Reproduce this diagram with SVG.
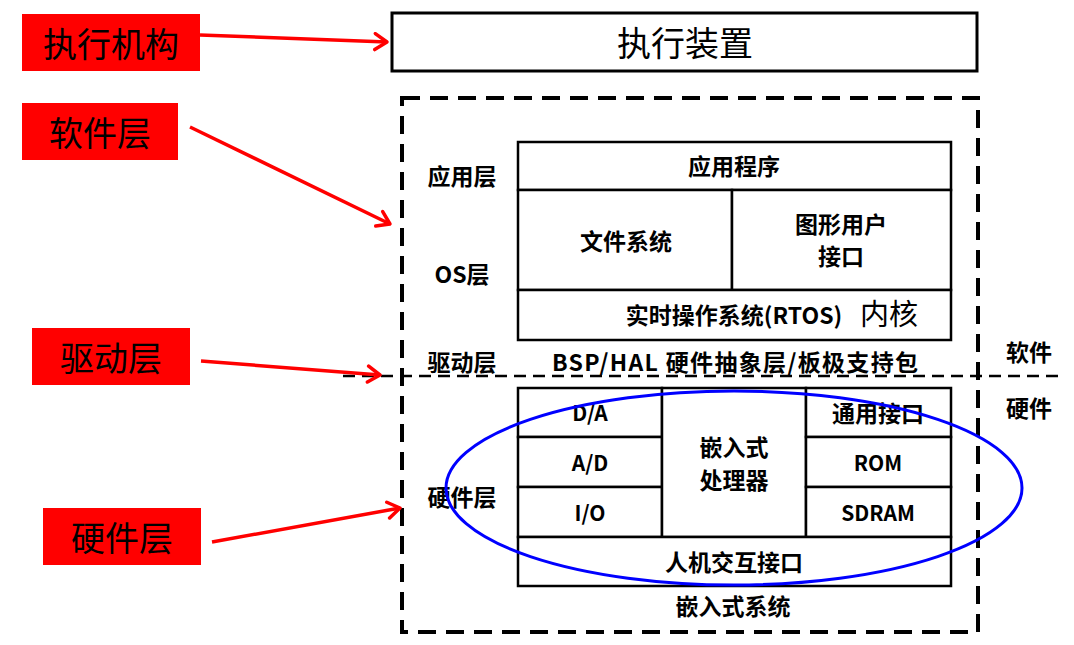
<svg xmlns="http://www.w3.org/2000/svg" width="1074" height="645" viewBox="0 0 1074 645">
<defs>
<marker id="ah" markerUnits="userSpaceOnUse" markerWidth="20" markerHeight="20" viewBox="0 0 20 20" refX="17" refY="10" orient="auto">
<path d="M5,2 L17,10 L5,18" fill="none" stroke="#ff0000" stroke-width="3.5" stroke-linecap="round" stroke-linejoin="round"/>
</marker>
</defs>
<style>
.tag{fill:#ff0000;stroke:none}
.tagt{font-family:"Noto Sans CJK SC",sans-serif;font-size:34px;fill:#000;text-anchor:middle;dominant-baseline:central}
.cell{fill:#fff;stroke:#000;stroke-width:2.5}
.lbl{font-family:"Noto Sans CJK SC",sans-serif;font-size:23px;font-weight:bold;fill:#000;text-anchor:middle;dominant-baseline:central}
.lat{font-family:"Noto Sans CJK SC",sans-serif;font-size:21px;font-weight:bold;fill:#000;text-anchor:middle;dominant-baseline:central}
.dash{fill:none;stroke:#000;stroke-width:4;stroke-dasharray:18 10}
.dashh{fill:none;stroke:#000;stroke-width:2.5;stroke-dasharray:12 7}
.arr{stroke:#ff0000;stroke-width:3.5;fill:none;marker-end:url(#ah)}
</style>
<rect width="1074" height="645" fill="#fff"/>

<g id="frame">
<rect x="402" y="98" width="576" height="534" class="dash"/>
<line x1="343" y1="376" x2="1062" y2="376" class="dashh"/>
</g>

<g id="tag-exec"><rect x="22" y="14" width="178" height="57" class="tag"/><text x="111" y="42" class="tagt">执行机构</text></g>
<g id="tag-sw"><rect x="22" y="103" width="156" height="57" class="tag"/><text x="100" y="131" class="tagt">软件层</text></g>
<g id="tag-drv"><rect x="32" y="328" width="158" height="57" class="tag"/><text x="111" y="356" class="tagt">驱动层</text></g>
<g id="tag-hw"><rect x="43" y="508" width="158" height="57" class="tag"/><text x="122" y="536" class="tagt">硬件层</text></g>

<g id="exec-device"><rect x="392" y="13" width="585" height="58" fill="#fff" stroke="#000" stroke-width="3"/><text x="685" y="41" class="tagt">执行装置</text></g>

<g id="layer-labels">
<text x="462" y="175" class="lbl">应用层</text>
<text x="462" y="273" class="lbl">OS层</text>
<text x="462" y="361" class="lbl">驱动层</text>
<text x="735" y="361" class="lbl" font-size="25" textLength="366" lengthAdjust="spacing">BSP/HAL 硬件抽象层/板极支持包</text>
<text x="1029" y="351" class="lbl">软件</text>
<text x="1029" y="407" class="lbl">硬件</text>
<text x="462" y="496" class="lbl">硬件层</text>
<text x="733" y="605" class="lbl" font-size="25">嵌入式系统</text>
</g>

<g id="app"><rect x="518" y="142" width="433" height="48" class="cell"/><text x="734" y="165" class="lbl">应用程序</text></g>
<g id="fs"><rect x="518" y="190" width="214" height="100" class="cell"/><text x="626" y="240" class="lbl">文件系统</text></g>
<g id="gui"><rect x="732" y="190" width="219" height="100" class="cell"/><text x="841" y="223" class="lbl" font-size="22">图形用户</text><text x="841" y="255" class="lbl" font-size="22">接口</text></g>
<g id="rtos"><rect x="518" y="290" width="433" height="50" class="cell"/><text x="734" y="314" class="lbl">实时操作系统(RTOS)</text><text x="889" y="312" font-family="Noto Sans CJK SC,sans-serif" font-size="29" text-anchor="middle" dominant-baseline="central">内核</text></g>

<g id="da"><rect x="518" y="388" width="144" height="49" class="cell"/><text x="590" y="412" class="lat">D/A</text></g>
<g id="ad"><rect x="518" y="437" width="144" height="50" class="cell"/><text x="590" y="462" class="lat">A/D</text></g>
<g id="io"><rect x="518" y="487" width="144" height="50" class="cell"/><text x="590" y="512" class="lat">I/O</text></g>
<g id="cpu"><rect x="662" y="388" width="144" height="149" class="cell"/><text x="734" y="446" class="lbl" font-size="22">嵌入式</text><text x="734" y="479" class="lbl" font-size="22">处理器</text></g>
<g id="gpio"><rect x="806" y="388" width="145" height="49" class="cell"/><text x="878" y="412" class="lbl">通用接口</text></g>
<g id="rom"><rect x="806" y="437" width="145" height="50" class="cell"/><text x="878" y="462" class="lat">ROM</text></g>
<g id="sdram"><rect x="806" y="487" width="145" height="50" class="cell"/><text x="878" y="512" class="lat">SDRAM</text></g>
<g id="hmi"><rect x="518" y="537" width="433" height="49" class="cell"/><text x="734" y="561" class="lbl">人机交互接口</text></g>

<g id="highlight"><ellipse cx="734" cy="488" rx="288" ry="97" fill="none" stroke="#0000ff" stroke-width="3"/></g>

<g id="connectors">
<line x1="200" y1="35" x2="387" y2="42" class="arr"/>
<line x1="190" y1="127" x2="390" y2="224" class="arr"/>
<line x1="201" y1="361" x2="380" y2="375" class="arr"/>
<line x1="212" y1="542" x2="400" y2="508" class="arr"/>
</g>
</svg>
